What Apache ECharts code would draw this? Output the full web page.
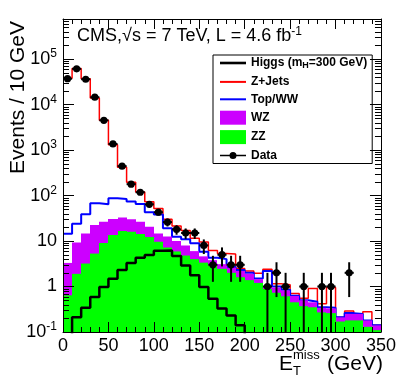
<!DOCTYPE html>
<html>
<head>
<meta charset="utf-8">
<script src="https://cdn.jsdelivr.net/npm/echarts@6/dist/echarts.min.js"></script>
<style>
  html, body { margin: 0; padding: 0; background: #fff; }
  #chart { width: 399px; height: 383px; }
</style>
</head>
<body>
<div id="chart"></div>
<script>
// lower edges of the 10 GeV MET bins
var binLow = [0, 10, 20, 30, 40, 50, 60, 70, 80, 90, 100, 110, 120, 130, 140, 150, 160,
  170, 180, 190, 200, 210, 220, 230, 240, 250, 260, 270, 280, 290, 300, 310, 320, 330, 340];
var binWidth = 10;

// stacked heights (ZZ, +WZ, +Top/WW, +Z+Jets)
var zzTop = [0.64, 1.9, 3.2, 5.3, 9.1, 13.5, 16.6, 16, 14.2, 12.3, 9.6, 7.2, 5.9, 4.8, 4.0, 3.35,
  2.9, 2.45, 2.0, 1.6, 1.38, 1.2, 0.88, 0.73, 0.61, 0.45, 0.37, 0.35, 0.27, 0.26, 0.17, 0.18, 0.18, 0.13, 0.11];
var wzTop = [3.3, 9.3, 14.7, 22.4, 26.5, 30.4, 33, 30, 26.5, 20.6, 14.7, 12.5, 10, 8, 6, 4.6,
  3.8, 3.1, 2.6, 2.2, 1.9, 1.45, 1.0, 0.95, 0.82, 0.62, 0.5, 0.45, 0.34, 0.33, 0.21, 0.25, 0.25, 0.18, 0.14];
var topWwTop = [14.5, 24, 39, 68, 64, 87, 84, 74, 65, 43, 38.5, 19, 12.4, 11, 8.9, 5.8,
  4.3, 4.0, 2.7, 2.3, 2.0, 1.5, 2.2, 1.0, 0.85, 0.63, 0.5, 0.46, 0.35, 0.34, 0.21, 0.26, 0.25, 0.18, 0.14];
var zJetsTop = [38000, 62000, 37000, 14000, 4500, 1300, 420, 195, 120, 73, 52, 30, 21.5, 17, 11.5, 9.5,
  6.2, 5.3, 5.2, 2.5, 2.2, 1.95, 2.4, 1.15, 1.1, 0.7, 0.55, 0.9, 0.42, 0.95, 0.21, 0.29, 0.25, 0.28, 0.14];
// Higgs (mH = 300 GeV), not stacked; 0 = below the plotted range
var higgs = [0, 0.21, 0.34, 0.59, 0.98, 1.49, 2.3, 3.3, 4.3, 4.9, 6.1, 6.2, 4.7, 2.9, 1.77, 0.98,
  0.54, 0.33, 0.23, 0.14, 0, 0, 0, 0, 0, 0, 0, 0, 0, 0, 0, 0, 0, 0, 0];
// observed events per bin
var dataCounts = [37000, 61000, 36000, 14500, 4500, 1360, 443, 178, 118, 64, 43, 26, 18, 15, 15, 8,
  3, 5, 3, 3, 0, 0, 1, 2, 1, 0, 1, 0, 1, 1, 0, 2, 0, 0, 0];

var xTicks = [0, 50, 100, 150, 200, 250, 300, 350];

var FONT = 'Liberation Sans, Arial, Helvetica, sans-serif';
var YMIN = 0.1, YMAX = 7.6e5;

// legend icons: a plain line, and a line with a dot for data
var LINE_ICON = 'path://M0,0 L26,0 L26,2 L0,2 Z';
var THICK_ICON = 'path://M0,0 L26,0 L26,2.6 L0,2.6 Z';
var DATA_ICON = 'path://M0,3.25 L26,3.25 L26,4.75 L0,4.75 Z M16.5,4 A3.5,3.5 0 1 1 9.5,4 A3.5,3.5 0 1 1 16.5,4 Z';

function stepPoints(vals) {
  var pts = vals.map(function (v, i) { return [binLow[i], v > 0 ? v : YMIN * 0.3]; });
  var last = pts[pts.length - 1];
  pts.push([binLow[binLow.length - 1] + binWidth, last[1]]);
  return pts;
}

function fillSeries(name, tops, color, z) {
  return {
    name: name,
    type: 'custom',
    z: z,
    silent: true,
    itemStyle: { color: color },
    encode: { x: [0, 1], y: 2 },
    data: tops.map(function (v, i) { return [binLow[i], binLow[i] + binWidth, v]; }),
    renderItem: function (params, api) {
      var a = api.coord([api.value(0), api.value(2)]);
      var b = api.coord([api.value(1), YMIN]);
      var x0 = Math.round(a[0]), x1 = Math.round(b[0]);
      return { type: 'rect', shape: { x: x0, y: a[1], width: x1 - x0, height: b[1] - a[1] },
        style: { fill: color } };
    }
  };
}

var pointData = [];
dataCounts.forEach(function (n, i) {
  if (n > 0) {
    var e = Math.sqrt(n);
    pointData.push([binLow[i] + binWidth / 2, n, n - e, n + e]);
  }
});

var minorVals = [];
for (var k = -1; k <= 5; k++) {
  for (var m = 2; m <= 9; m++) {
    var v = m * Math.pow(10, k);
    if (v < YMAX) minorVals.push([0, v]);
  }
}

function yLabel(v) {
  var e = Math.round(Math.log10(v));
  if (e === 0) return '{b|1}';
  if (e === 1) return '{b|10}';
  return '{b|10}{s|' + e + '}';
}

var chart = echarts.init(document.getElementById('chart'), null, { renderer: 'canvas' });

var axisCommon = {
  z: 10,
  axisLine: { show: true, onZero: false, lineStyle: { color: '#000', width: 1 } },
  splitLine: { show: false }
};

chart.setOption({
  animation: false,
  backgroundColor: '#fff',
  grid: { left: 63, top: 19, width: 320, height: 313, containLabel: false },
  xAxis: [
    Object.assign({}, axisCommon, {
      type: 'value', position: 'bottom', min: 0, max: 350, interval: 50,
      axisTick: { show: true, inside: true, length: 10, lineStyle: { color: '#000' } },
      minorTick: { show: true, splitNumber: 5, length: 5, lineStyle: { color: '#000' } },
      axisLabel: { show: true, margin: 5, color: '#000', fontSize: 18, fontFamily: FONT,
        customValues: xTicks, showMinLabel: true, showMaxLabel: true, hideOverlap: false }
    }),
    Object.assign({}, axisCommon, {
      type: 'value', position: 'top', min: 0, max: 350, interval: 50,
      axisTick: { show: true, inside: true, length: 10, lineStyle: { color: '#000' } },
      minorTick: { show: true, splitNumber: 5, length: 5, lineStyle: { color: '#000' } },
      axisLabel: { show: false }
    })
  ],
  yAxis: [
    Object.assign({}, axisCommon, {
      type: 'log', logBase: 10, position: 'left', min: YMIN, max: YMAX,
      axisTick: { show: true, inside: true, length: 11, lineStyle: { color: '#000' } },
      axisLabel: {
        show: true, margin: 6, color: '#000', fontFamily: FONT,
        showMinLabel: true, showMaxLabel: false,
        formatter: yLabel,
        rich: {
          b: { fontSize: 18, fontFamily: FONT, color: '#000', lineHeight: 22 },
          s: { fontSize: 12, fontFamily: FONT, color: '#000', lineHeight: 12, verticalAlign: 'top' }
        }
      }
    }),
    Object.assign({}, axisCommon, {
      type: 'log', logBase: 10, position: 'right', min: YMIN, max: YMAX,
      axisTick: { show: true, inside: true, length: 11, lineStyle: { color: '#000' } },
      axisLabel: { show: false }
    })
  ],
  legend: {
    left: 213, top: 55, orient: 'vertical',
    itemWidth: 26, itemHeight: 14, itemGap: 5.4,
    padding: [2, 5, 2, 7],
    borderColor: '#000', borderWidth: 1, backgroundColor: '#fff',
    selectedMode: false,
    textStyle: { fontFamily: FONT, fontSize: 12, fontWeight: 'bold', color: '#000',
      rich: {
        b: { fontFamily: FONT, fontSize: 12, fontWeight: 'bold', color: '#000' },
        sub: { fontFamily: FONT, fontSize: 9, fontWeight: 'bold', color: '#000', padding: [6, 0, 0, 0] }
      } },
    formatter: function (name) {
      if (name === 'Higgs') return '{b|Higgs (m}{sub|H}{b|=300 GeV)}';
      return name;
    },
    data: [
      { name: 'Higgs', icon: THICK_ICON },
      { name: 'Z+Jets', icon: LINE_ICON },
      { name: 'Top/WW', icon: LINE_ICON },
      { name: 'WZ', icon: 'rect' },
      { name: 'ZZ', icon: 'rect' },
      { name: 'Data', icon: DATA_ICON }
    ]
  },
  graphic: [
    { type: 'text', x: 77, y: 46, z: 20,
      style: { text: '{a|CMS,√s = 7 TeV, L = 4.6 fb}{s|-1}', verticalAlign: 'bottom',
        rich: { a: { fontFamily: FONT, fontSize: 18, color: '#000', lineHeight: 20 },
                s: { fontFamily: FONT, fontSize: 12, color: '#000', lineHeight: 12, verticalAlign: 'top' } } } },
    { type: 'text', x: 18, y: 21, rotation: Math.PI / 2, z: 20,
      style: { text: 'Events / 10 GeV', fontFamily: FONT, fontSize: 21, fill: '#000',
        align: 'right', verticalAlign: 'middle' } },
    { type: 'text', x: 279, y: 375, z: 20,
      style: { text: 'E', fontFamily: FONT, fontSize: 21, fill: '#000', align: 'left', verticalAlign: 'bottom' } },
    { type: 'text', x: 293, y: 362, z: 20,
      style: { text: 'miss', fontFamily: FONT, fontSize: 13, fill: '#000', align: 'left', verticalAlign: 'bottom' } },
    { type: 'text', x: 293, y: 378, z: 20,
      style: { text: 'T', fontFamily: FONT, fontSize: 13, fill: '#000', align: 'left', verticalAlign: 'bottom' } },
    { type: 'text', x: 383, y: 375, z: 20,
      style: { text: '(GeV)', fontFamily: FONT, fontSize: 21, fill: '#000', align: 'right', verticalAlign: 'bottom' } }
  ],
  series: [
    {
      name: 'Z+Jets', type: 'line', step: 'end', z: 3, symbol: 'none', silent: true,
      color: '#ff0000', lineStyle: { color: '#ff0000', width: 1.5 },
      data: stepPoints(zJetsTop)
    },
    {
      name: 'Top/WW', type: 'line', step: 'end', z: 4, symbol: 'none', silent: true,
      color: '#0000ff', lineStyle: { color: '#0000ff', width: 2 },
      data: stepPoints(topWwTop)
    },
    fillSeries('WZ', wzTop, '#cc00ff', 5),
    fillSeries('ZZ', zzTop, '#00ff00', 6),
    {
      name: 'Higgs', type: 'line', step: 'end', z: 7, symbol: 'none', silent: true,
      color: '#000', lineStyle: { color: '#000', width: 2.5 },
      data: stepPoints(higgs)
    },
    {
      // legend entry only
      name: 'Data', type: 'line', data: [], symbol: 'circle', symbolSize: 7,
      color: '#000', itemStyle: { color: '#000' }, lineStyle: { color: '#000', width: 1.5 }
    },
    {
      name: 'points', type: 'custom', z: 8, silent: true,
      encode: { x: 0, y: 1 },
      data: pointData,
      renderItem: function (params, api) {
        var cs = params.coordSys;
        var x = api.value(0), n = api.value(1);
        var lo = api.value(2), hi = api.value(3);
        var c = api.coord([x, n]);
        var yBottom = cs.y + cs.height;
        var yLo = lo > 0 ? Math.min(api.coord([x, lo])[1], yBottom) : yBottom;
        var yHi = api.coord([x, hi])[1];
        var xl = api.coord([x - binWidth / 2, n])[0];
        var xr = api.coord([x + binWidth / 2, n])[0];
        return { type: 'group', children: [
          { type: 'line', shape: { x1: c[0], y1: yLo, x2: c[0], y2: yHi }, style: { stroke: '#000', lineWidth: 2 } },
          { type: 'line', shape: { x1: xl, y1: c[1], x2: xr, y2: c[1] }, style: { stroke: '#000', lineWidth: 2 } },
          { type: 'circle', shape: { cx: c[0], cy: c[1], r: 3.6 }, style: { fill: '#000' } }
        ] };
      }
    },
    {
      name: 'minorTicks', type: 'custom', z: 11, silent: true,
      encode: { x: 0, y: 1 },
      data: minorVals,
      renderItem: function (params, api) {
        var cs = params.coordSys;
        var y = Math.round(api.coord([0, api.value(1)])[1]) + 0.5;
        return { type: 'group', children: [
          { type: 'line', shape: { x1: cs.x, y1: y, x2: cs.x + 6, y2: y }, style: { stroke: '#000', lineWidth: 1 } },
          { type: 'line', shape: { x1: cs.x + cs.width - 6, y1: y, x2: cs.x + cs.width, y2: y }, style: { stroke: '#000', lineWidth: 1 } }
        ] };
      }
    }
  ]
});
</script>
</body>
</html>
